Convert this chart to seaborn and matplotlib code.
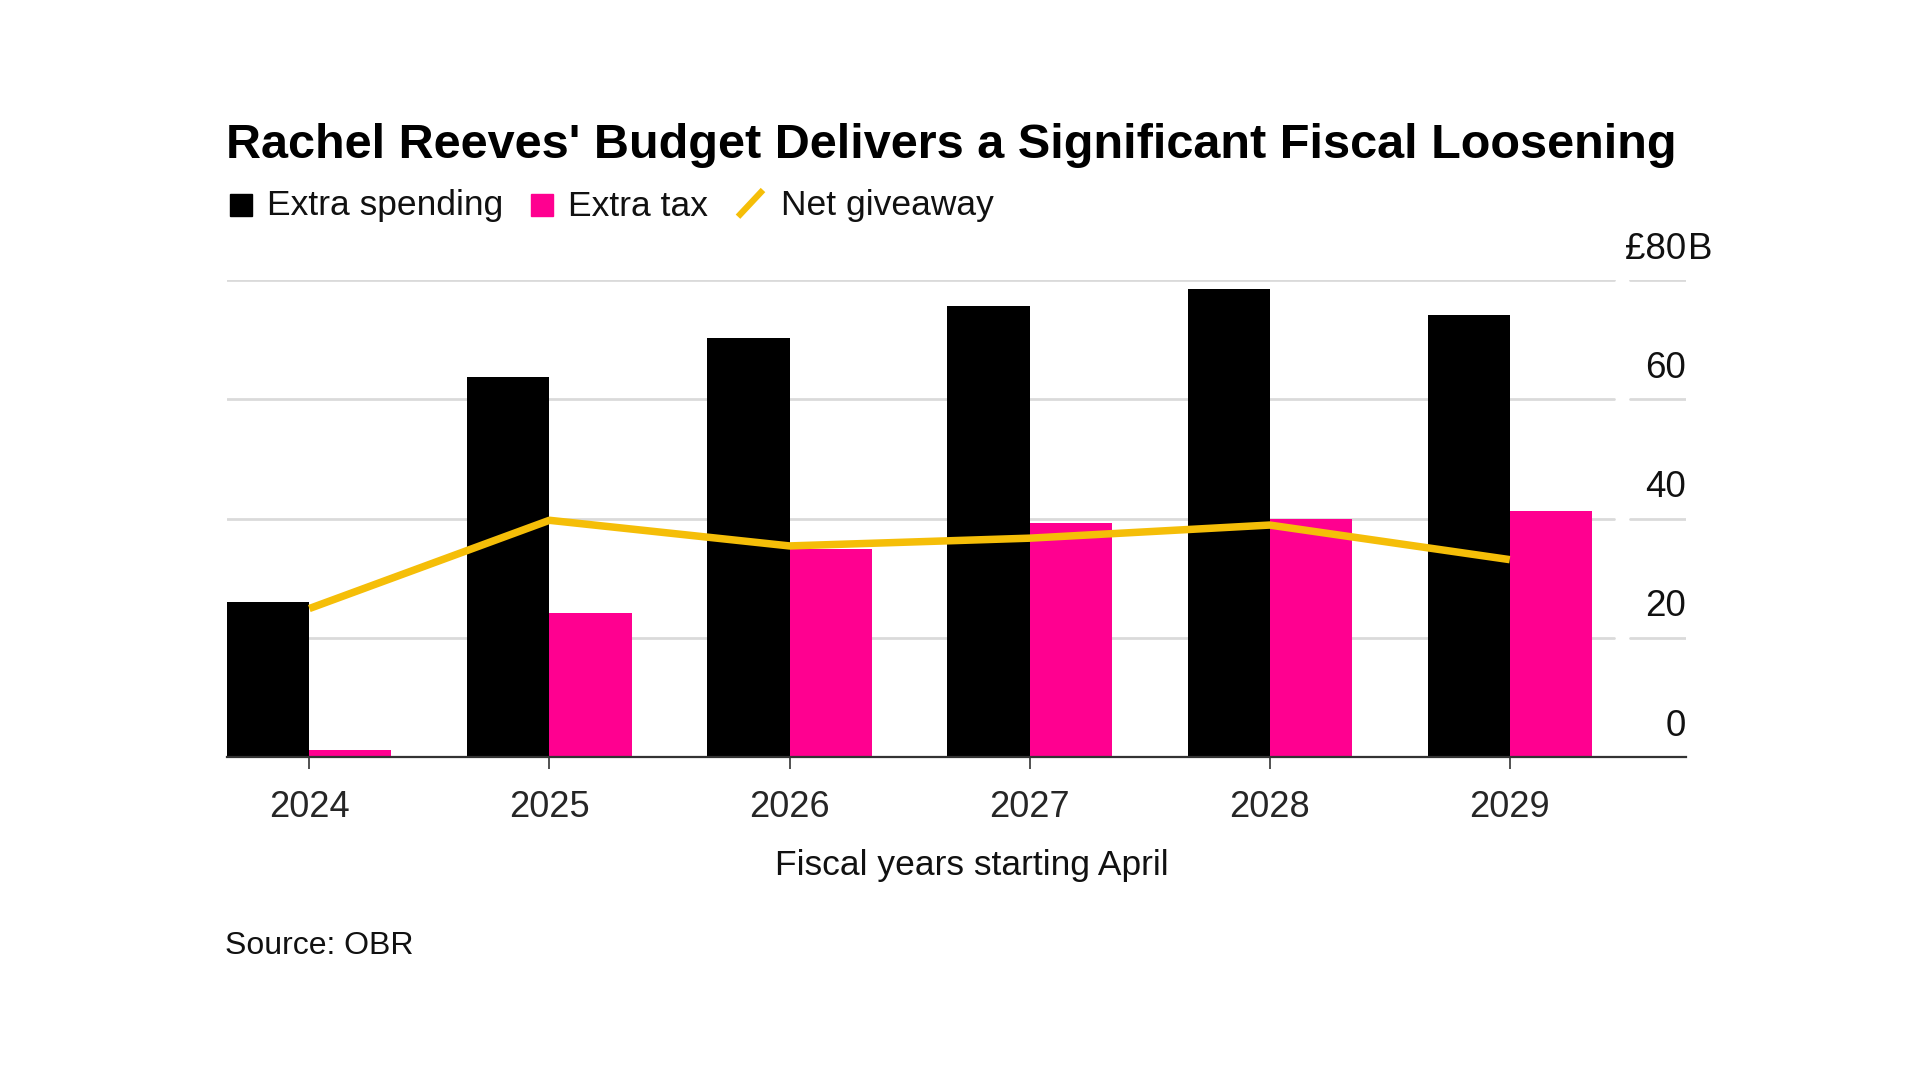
import numpy as np
import pandas as pd
import matplotlib
matplotlib.use("Agg")
import matplotlib.pyplot as plt
import seaborn as sns
from matplotlib.lines import Line2D
from matplotlib.patches import Rectangle

# ---------------- data ----------------
years = ["2024", "2025", "2026", "2027", "2028", "2029"]
extra_spending = [26.0, 63.7, 70.2, 75.6, 78.5, 74.2]
extra_tax = [1.2, 24.2, 34.9, 39.2, 39.9, 41.3]
net_giveaway = [24.9, 39.7, 35.4, 36.7, 38.9, 33.1]
y_ticks = [0, 20, 40, 60, 80]
y_tick_labels = ["0", "20", "40", "60", "£80"]
y_unit = "B"
series_names = ["Extra spending", "Extra tax", "Net giveaway"]

title = "Rachel Reeves' Budget Delivers a Significant Fiscal Loosening"
x_label = "Fiscal years starting April"
source = "Source: OBR"

BLACK = "#000000"
PINK = "#FF0090"
YELLOW = "#F5BE08"
GRID = "#DADADA"
AXIS = "#333333"

sns.set_theme(style="white")
plt.rcParams["font.family"] = ["Liberation Sans", "DejaVu Sans"]
plt.rcParams["text.color"] = "#111111"

df = pd.DataFrame({
    "year": years * 2,
    "series": [series_names[0]] * len(years) + [series_names[1]] * len(years),
    "value": extra_spending + extra_tax,
})

W, H = 1920, 1080
fig = plt.figure(figsize=(W / 100, H / 100), dpi=100)
fig.patch.set_facecolor("white")

ax_left, ax_right, ax_top, ax_bottom = 226.5, 1686, 280, 757
ax = fig.add_axes([ax_left / W, 1 - ax_bottom / H,
                   (ax_right - ax_left) / W, (ax_bottom - ax_top) / H])

sns.barplot(data=df, x="year", y="value", hue="series", order=years,
            hue_order=series_names[:2], palette=[BLACK, PINK],
            width=0.684, gap=0, dodge=True, saturation=1, linewidth=0,
            legend=False, ax=ax, zorder=2)

sns.lineplot(x=np.arange(len(years)), y=net_giveaway, color=YELLOW,
             linewidth=5.4, ax=ax, zorder=3, sort=False, legend=False,
             solid_capstyle="butt", solid_joinstyle="round")

ax.set_xlim(-0.345, 5.734)
ax.set_ylim(0, 80)

# gridlines (split segment style)
for v in y_ticks[1:]:
    ax.axhline(v, xmin=0, xmax=0.9507, color=GRID, lw=2.0, zorder=0)
    ax.axhline(v, xmin=0.9616, xmax=1.0, color=GRID, lw=2.0, zorder=0)

# y labels above gridlines, at right
for v, lab in zip(y_ticks, y_tick_labels):
    ax.annotate(lab, xy=(1, v), xycoords=("axes fraction", "data"),
                xytext=(0, 22.3), textcoords="offset points",
                ha="right", va="center", fontsize=26.5, annotation_clip=False)
ax.annotate(y_unit, xy=(1, y_ticks[-1]), xycoords=("axes fraction", "data"),
            xytext=(1.5, 22.3), textcoords="offset points",
            ha="left", va="center", fontsize=26.5, annotation_clip=False)

ax.set_yticks([])
ax.set_ylabel("")
ax.set_xlabel("")
ax.set_xticks(range(len(years)))
ax.set_xticklabels(years, fontsize=26)
ax.tick_params(axis="x", bottom=True, length=8.6, width=1.2, color=AXIS,
               direction="out", pad=15.5)
for s in ["left", "right", "top"]:
    ax.spines[s].set_visible(False)
ax.spines["bottom"].set_color(AXIS)
ax.spines["bottom"].set_linewidth(1.6)
ax.spines["bottom"].set_zorder(4)
ax.grid(False)

# x label
fig.text(972 / W, 1 - 865.5 / H, x_label, ha="center", va="center", fontsize=25.5)

# title
fig.text(226 / W, 1 - 158 / H, title, ha="left", va="baseline",
         fontsize=35, fontweight="bold", color="#000000")

# legend (manual)
base = 1 - 215.5 / H
sq = 22
fig.patches.append(Rectangle((230 / W, base), sq / W, sq / H, color=BLACK,
                             transform=fig.transFigure, figure=fig))
fig.text(267 / W, base, series_names[0], ha="left", va="baseline", fontsize=25.5)
fig.patches.append(Rectangle((531 / W, base), sq / W, sq / H, color=PINK,
                             transform=fig.transFigure, figure=fig))
fig.text(568 / W, base, series_names[1], ha="left", va="baseline", fontsize=25.5)
fig.lines.append(Line2D([738 / W, 763 / W], [1 - 216.7 / H, 1 - 190 / H],
                        color=YELLOW, lw=4.5, transform=fig.transFigure,
                        figure=fig, solid_capstyle="butt"))
fig.text(781 / W, base, series_names[2], ha="left", va="baseline", fontsize=25.5)

# source
fig.text(225 / W, 1 - 954 / H, source, ha="left", va="baseline", fontsize=23)

fig.savefig("out.png", dpi=100, facecolor="white")
